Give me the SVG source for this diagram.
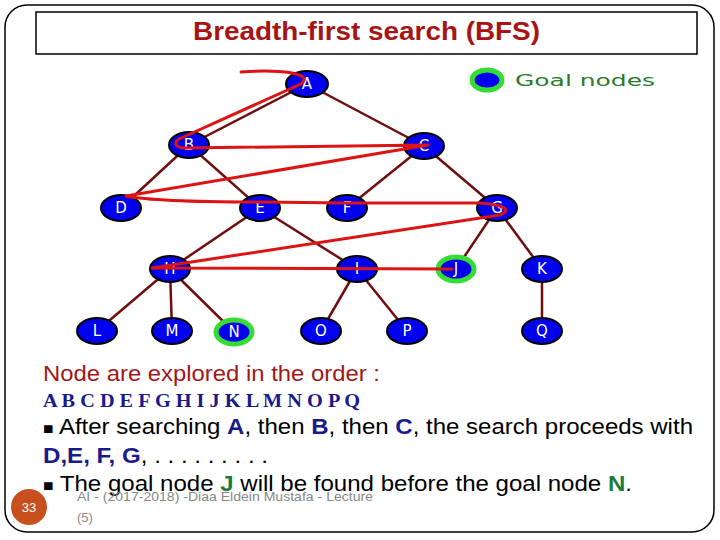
<svg xmlns="http://www.w3.org/2000/svg" width="720" height="540" viewBox="0 0 720 540">
<style>
.edge{stroke:#6e0e0e;stroke-width:2.5;fill:none}
.node ellipse{fill:#0000ee;stroke:#000;stroke-width:2}
.goal ellipse{fill:#0000ee;stroke:#33dd33;stroke-width:5}
.lbl{font-family:"DejaVu Sans",sans-serif;font-size:15px;fill:#fff;text-anchor:middle}
.path{stroke:#dd1414;stroke-width:3;fill:none;stroke-linejoin:round;stroke-linecap:round}
.body{font-family:"Liberation Sans",Arial,sans-serif;font-size:22px;fill:#000}
.b{font-weight:bold;fill:#1a1a8c}
.g{font-weight:bold;fill:#1e7a3c}
</style>
<rect x="5" y="5" width="709" height="527" rx="22" fill="#fff" stroke="#000" stroke-width="1.5"/>
<rect x="36" y="12" width="661" height="42" fill="#fff" stroke="#000" stroke-width="1.5"/>
<text x="366.5" y="40" font-family="'Liberation Sans',Arial,sans-serif" font-weight="bold" font-size="25" fill="#a81414" text-anchor="middle" textLength="347" lengthAdjust="spacingAndGlyphs">Breadth-first search (BFS)</text>

<g id="legend">
<ellipse cx="487" cy="80" rx="15" ry="10" fill="#0000ee" stroke="#33dd33" stroke-width="5"/>
<text x="515" y="86" font-family="'DejaVu Sans',sans-serif" font-size="16" fill="#2a7a2a" textLength="140" lengthAdjust="spacingAndGlyphs">Goal nodes</text>
</g>

<g id="connectors">
<line class="edge" x1="307" y1="84" x2="189" y2="145"/>
<line class="edge" x1="307" y1="84" x2="424" y2="146"/>
<line class="edge" x1="189" y1="145" x2="121" y2="208"/>
<line class="edge" x1="189" y1="145" x2="260" y2="208"/>
<line class="edge" x1="424" y1="146" x2="347" y2="208"/>
<line class="edge" x1="424" y1="146" x2="497" y2="208"/>
<line class="edge" x1="260" y1="208" x2="170" y2="269"/>
<line class="edge" x1="260" y1="208" x2="357" y2="269"/>
<line class="edge" x1="497" y1="208" x2="456" y2="269"/>
<line class="edge" x1="497" y1="208" x2="542" y2="269"/>
<line class="edge" x1="170" y1="269" x2="97" y2="331"/>
<line class="edge" x1="170" y1="269" x2="172" y2="331"/>
<line class="edge" x1="170" y1="269" x2="234" y2="332"/>
<line class="edge" x1="357" y1="269" x2="321" y2="331"/>
<line class="edge" x1="357" y1="269" x2="407" y2="331"/>
<line class="edge" x1="542" y1="269" x2="542" y2="331"/>
</g>

<g id="A" class="node"><ellipse cx="307" cy="84" rx="21" ry="13"/><text class="lbl" x="307" y="89">A</text></g>
<g id="B" class="node"><ellipse cx="189" cy="145" rx="20" ry="13"/><text class="lbl" x="189" y="150">B</text></g>
<g id="C" class="node"><ellipse cx="424" cy="146" rx="20" ry="13"/><text class="lbl" x="424" y="151">C</text></g>
<g id="D" class="node"><ellipse cx="121" cy="208" rx="20" ry="13"/><text class="lbl" x="121" y="213">D</text></g>
<g id="E" class="node"><ellipse cx="260" cy="208" rx="20" ry="13"/><text class="lbl" x="260" y="213">E</text></g>
<g id="F" class="node"><ellipse cx="347" cy="208" rx="20" ry="13"/><text class="lbl" x="347" y="213">F</text></g>
<g id="G" class="node"><ellipse cx="497" cy="208" rx="20" ry="13"/><text class="lbl" x="497" y="213">G</text></g>
<g id="H" class="node"><ellipse cx="170" cy="269" rx="20" ry="13"/><text class="lbl" x="170" y="274">H</text></g>
<g id="I" class="node"><ellipse cx="357" cy="269" rx="20" ry="13"/><text class="lbl" x="357" y="274">I</text></g>
<g id="J" class="goal"><ellipse cx="456" cy="269" rx="18" ry="12"/><text class="lbl" x="456" y="274">J</text></g>
<g id="K" class="node"><ellipse cx="542" cy="269" rx="20" ry="13"/><text class="lbl" x="542" y="274">K</text></g>
<g id="L" class="node"><ellipse cx="97" cy="331" rx="20" ry="13"/><text class="lbl" x="97" y="336">L</text></g>
<g id="M" class="node"><ellipse cx="172" cy="331" rx="20" ry="13"/><text class="lbl" x="172" y="336">M</text></g>
<g id="N" class="goal"><ellipse cx="234" cy="332" rx="18" ry="12"/><text class="lbl" x="234" y="337">N</text></g>
<g id="O" class="node"><ellipse cx="321" cy="331" rx="20" ry="13"/><text class="lbl" x="321" y="336">O</text></g>
<g id="P" class="node"><ellipse cx="407" cy="331" rx="20" ry="13"/><text class="lbl" x="407" y="336">P</text></g>
<g id="Q" class="node"><ellipse cx="542" cy="331" rx="20" ry="13"/><text class="lbl" x="542" y="336">Q</text></g>

<g id="bfs-path">
<path class="path" d="M241,72 C268,70 295,71 303,77 C307,81 300,85 292,88 L179,139 C173,143 176,148 185,148 L428,145 L126,196 C150,201 200,202 260,202 L347,203 L480,203 C505,205 512,210 500,215 L152,268 L452,269"/>
</g>

<text class="body" x="43" y="381" style="fill:#a01818" textLength="337" lengthAdjust="spacingAndGlyphs">Node are explored in the order :</text>
<text x="43" y="407" font-family="'Liberation Serif','Times New Roman',serif" font-weight="bold" font-size="18" fill="#1a1a8c" textLength="317" lengthAdjust="spacingAndGlyphs">A B C D E F G H I J K L M N O P Q</text>
<text class="body" x="43" y="434" textLength="650" lengthAdjust="spacingAndGlyphs"><tspan font-size="16">■</tspan> After searching <tspan class="b">A</tspan>, then <tspan class="b">B</tspan>, then <tspan class="b">C</tspan>, the search proceeds with</text>
<text class="body" x="43" y="463" textLength="225" lengthAdjust="spacingAndGlyphs"><tspan class="b">D,E, F, G</tspan>, . . . . . . . . .</text>
<text class="body" x="43" y="491" textLength="589" lengthAdjust="spacingAndGlyphs"><tspan font-size="16">■</tspan> The goal node <tspan class="g">J</tspan> will be found before the goal node <tspan class="g">N</tspan>.</text>

<text x="77" y="501" font-family="'Liberation Sans',Arial,sans-serif" font-size="13" fill="#888" textLength="296" lengthAdjust="spacingAndGlyphs">AI - (2017-2018) -Diaa Eldein Mustafa - Lecture</text>
<text x="77" y="522" font-family="'Liberation Sans',Arial,sans-serif" font-size="13" fill="#888">(5)</text>

<g id="page-number">
<circle cx="29" cy="507" r="18" fill="#c8501e"/>
<text x="29" y="512" font-family="'Liberation Sans',Arial,sans-serif" font-size="13" fill="#fff" text-anchor="middle">33</text>
</g>
</svg>
